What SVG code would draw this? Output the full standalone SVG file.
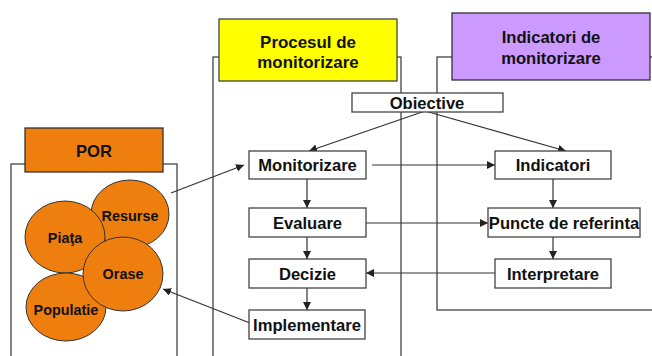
<svg xmlns="http://www.w3.org/2000/svg" width="652" height="356" viewBox="0 0 652 356">
<defs>
<style>
.frame{fill:none;stroke:#444;stroke-width:1.3}
.box{fill:#fff;stroke:#444;stroke-width:1.3}
.t{font-family:"Liberation Sans",Arial,sans-serif;font-weight:bold;font-size:16.6px;fill:#111;text-anchor:middle}
.ts{font-family:"Liberation Sans",Arial,sans-serif;font-weight:bold;font-size:14.4px;fill:#111;text-anchor:middle}
.blob{fill:#EE7F0E;stroke:#333;stroke-width:1}
.conn{fill:none;stroke:#333;stroke-width:1.2}
</style>
<marker id="ah" viewBox="0 0 10 10" refX="10" refY="5" markerWidth="8" markerHeight="8" markerUnits="userSpaceOnUse" orient="auto">
<path d="M0,0 L10,5 L0,10 z" fill="#222"/>
</marker>
</defs>
<rect width="652" height="356" fill="#fff"/>
<g id="frames">
<rect class="frame" x="11" y="164" width="166" height="200"/>
<rect class="frame" x="213" y="57" width="188" height="310"/>
<rect class="frame" x="437" y="57" width="220" height="253"/>
</g>
<g id="por-header">
<rect x="25" y="128" width="138" height="44" fill="#EE7F0E" stroke="#333" stroke-width="1.3"/>
<text class="t" x="94" y="157">POR</text>
</g>
<g id="proc-header">
<rect x="219" y="19" width="178" height="62" fill="#FFFF00" stroke="#444" stroke-width="1.3"/>
<text class="t" x="308" y="47.5" style="font-size:16.9px">Procesul de</text>
<text class="t" x="308" y="67.5" style="font-size:16.9px">monitorizare</text>
</g>
<g id="ind-header">
<rect x="452" y="13" width="198" height="67" fill="#CC99FF" stroke="#333" stroke-width="1.3"/>
<text class="t" x="551" y="43" style="font-weight:600">Indicatori de</text>
<text class="t" x="551" y="64" style="font-weight:600">monitorizare</text>
</g>
<g id="resurse"><ellipse class="blob" cx="130" cy="214" rx="39" ry="34"/><text class="ts" x="130" y="221">Resurse</text></g>
<g id="piata"><ellipse class="blob" cx="65" cy="237" rx="40" ry="36"/><text class="ts" x="65" y="243">Piaţa</text></g>
<g id="populatie"><ellipse class="blob" cx="66" cy="307" rx="40" ry="34"/><text class="ts" x="66" y="315">Populatie</text></g>
<g id="orase"><ellipse class="blob" cx="123" cy="274" rx="40" ry="37"/><text class="ts" x="123" y="279">Orase</text></g>
<g id="connectors">
<line class="conn" x1="425" y1="111" x2="309" y2="151" marker-end="url(#ah)"/>
<line class="conn" x1="425" y1="111" x2="566" y2="151" marker-end="url(#ah)"/>
<line class="conn" x1="171" y1="193" x2="244" y2="165" marker-end="url(#ah)"/>
<line class="conn" x1="250" y1="323" x2="163" y2="289" marker-end="url(#ah)"/>
<line class="conn" x1="372" y1="165" x2="495" y2="165" marker-end="url(#ah)"/>
<line class="conn" x1="366" y1="223" x2="488" y2="223" marker-end="url(#ah)"/>
<line class="conn" x1="495" y1="273" x2="366" y2="273" marker-end="url(#ah)"/>
<line class="conn" x1="307" y1="179" x2="307" y2="208" marker-end="url(#ah)"/>
<line class="conn" x1="307" y1="237" x2="307" y2="259" marker-end="url(#ah)"/>
<line class="conn" x1="307" y1="288" x2="307" y2="310" marker-end="url(#ah)"/>
<line class="conn" x1="553" y1="179" x2="553" y2="208" marker-end="url(#ah)"/>
<line class="conn" x1="553" y1="237" x2="553" y2="259" marker-end="url(#ah)"/>
</g>
<g id="objective"><rect class="box" x="352" y="93" width="151" height="19"/><text class="t" x="427" y="108.5">Obiective</text></g>
<g id="monitorizare"><rect class="box" x="249" y="151" width="117" height="28"/><text class="t" x="307.5" y="171">Monitorizare</text></g>
<g id="evaluare"><rect class="box" x="249" y="208" width="117" height="29"/><text class="t" x="307.5" y="228.5">Evaluare</text></g>
<g id="decizie"><rect class="box" x="249" y="259" width="117" height="29"/><text class="t" x="307.5" y="279.5">Decizie</text></g>
<g id="implementare"><rect class="box" x="249" y="310" width="116" height="29"/><text class="t" x="307" y="330.5">Implementare</text></g>
<g id="indicatori"><rect class="box" x="495" y="151" width="116" height="28"/><text class="t" x="553" y="171">Indicatori</text></g>
<g id="puncte"><rect class="box" x="488" y="208" width="152" height="29"/><text class="t" x="564" y="228.5">Puncte de referinta</text></g>
<g id="interpretare"><rect class="box" x="495" y="259" width="116" height="29"/><text class="t" x="553" y="279.5">Interpretare</text></g>
</svg>
